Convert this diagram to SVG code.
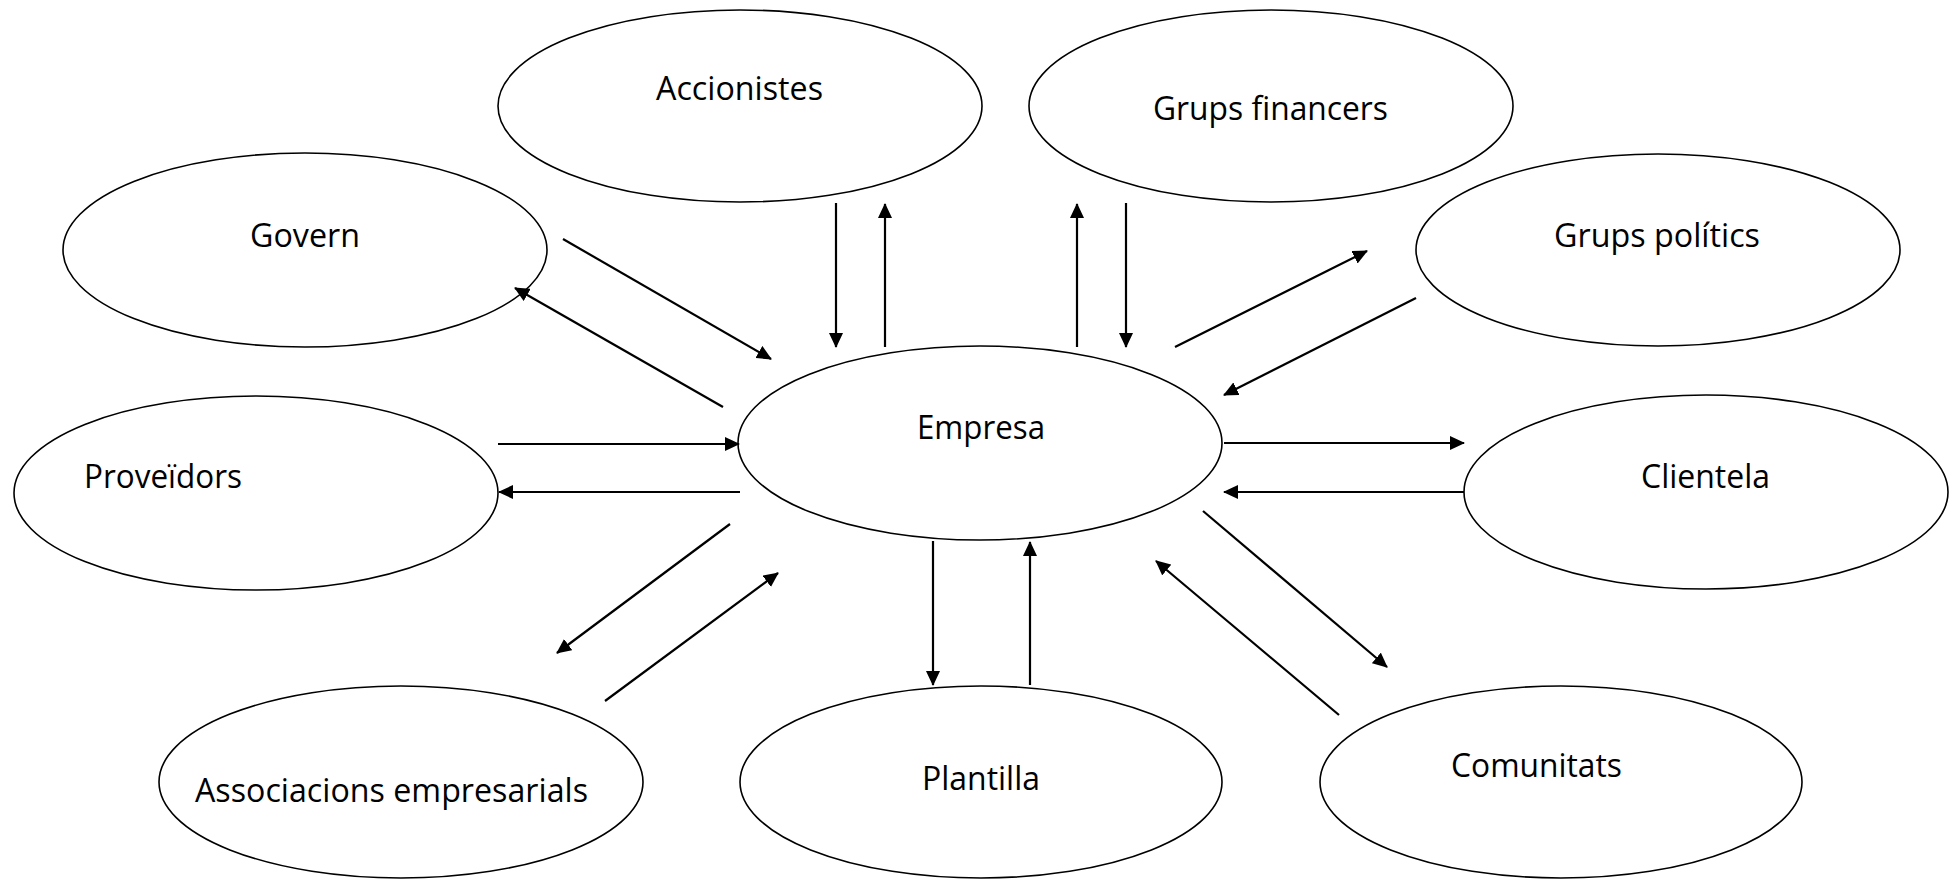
<svg xmlns="http://www.w3.org/2000/svg" width="1949" height="879" viewBox="0 0 1949 879">
  <style>
    .node ellipse { fill: #ffffff; stroke: #000000; stroke-width: 1.6; }
    .node text { font-family: "Open Sans", "Liberation Sans", sans-serif; font-size: 32px; fill: #000000; }
    .links line { stroke: #000000; stroke-width: 2.2; marker-end: url(#arrow); }
  </style>
  <defs>
    <marker id="arrow" viewBox="0 0 15 14" markerUnits="userSpaceOnUse" markerWidth="15" markerHeight="14" refX="14" refY="7" orient="auto">
      <path d="M0,0 L15,7 L0,14 z" fill="#000000"/>
    </marker>
  </defs>

  <rect width="1949" height="879" fill="#ffffff"/>

  <!-- stakeholder nodes -->
  <g id="accionistes" class="node">
    <ellipse cx="740" cy="106" rx="242" ry="96"/>
    <text x="656" y="100" textLength="167" lengthAdjust="spacingAndGlyphs">Accionistes</text>
  </g>
  <g id="grups-financers" class="node">
    <ellipse cx="1271" cy="106" rx="242" ry="96"/>
    <text x="1153" y="120" textLength="235" lengthAdjust="spacingAndGlyphs">Grups financers</text>
  </g>
  <g id="govern" class="node">
    <ellipse cx="305" cy="250" rx="242" ry="97"/>
    <text x="250" y="247" textLength="110" lengthAdjust="spacingAndGlyphs">Govern</text>
  </g>
  <g id="grups-politics" class="node">
    <ellipse cx="1658" cy="250" rx="242" ry="96"/>
    <text x="1554" y="247" textLength="206" lengthAdjust="spacingAndGlyphs">Grups polítics</text>
  </g>
  <g id="proveidors" class="node">
    <ellipse cx="256" cy="493" rx="242" ry="97"/>
    <text x="84" y="488" textLength="158" lengthAdjust="spacingAndGlyphs">Proveïdors</text>
  </g>
  <g id="empresa" class="node">
    <ellipse cx="980" cy="443" rx="242" ry="97"/>
    <text x="917" y="439" textLength="128" lengthAdjust="spacingAndGlyphs">Empresa</text>
  </g>
  <g id="clientela" class="node">
    <ellipse cx="1706" cy="492" rx="242" ry="97"/>
    <text x="1641" y="488" textLength="129" lengthAdjust="spacingAndGlyphs">Clientela</text>
  </g>
  <g id="associacions" class="node">
    <ellipse cx="401" cy="782" rx="242" ry="96"/>
    <text x="195" y="802" textLength="393" lengthAdjust="spacingAndGlyphs">Associacions empresarials</text>
  </g>
  <g id="plantilla" class="node">
    <ellipse cx="981" cy="782" rx="241" ry="96"/>
    <text x="922" y="790" textLength="118" lengthAdjust="spacingAndGlyphs">Plantilla</text>
  </g>
  <g id="comunitats" class="node">
    <ellipse cx="1561" cy="782" rx="241" ry="96"/>
    <text x="1451" y="777" textLength="171" lengthAdjust="spacingAndGlyphs">Comunitats</text>
  </g>

  <!-- two-way flows between the company and each group -->
  <g id="connectors" class="links">
    <line x1="563" y1="239" x2="771" y2="359"/>
    <line x1="723" y1="407" x2="515" y2="288"/>
    <line x1="836" y1="203" x2="836" y2="347"/>
    <line x1="885" y1="347" x2="885" y2="204"/>
    <line x1="1077" y1="347" x2="1077" y2="204"/>
    <line x1="1126" y1="203" x2="1126" y2="347"/>
    <line x1="1175" y1="347" x2="1367" y2="251"/>
    <line x1="1416" y1="298" x2="1224" y2="395"/>
    <line x1="498" y1="444" x2="739" y2="444"/>
    <line x1="740" y1="492" x2="499" y2="492"/>
    <line x1="1224" y1="443" x2="1464" y2="443"/>
    <line x1="1464" y1="492" x2="1224" y2="492"/>
    <line x1="730" y1="524" x2="557" y2="653"/>
    <line x1="605" y1="701" x2="778" y2="573"/>
    <line x1="933" y1="541" x2="933" y2="685"/>
    <line x1="1030" y1="685" x2="1030" y2="542"/>
    <line x1="1203" y1="511" x2="1387" y2="667"/>
    <line x1="1339" y1="715" x2="1156" y2="561"/>
  </g>
</svg>
